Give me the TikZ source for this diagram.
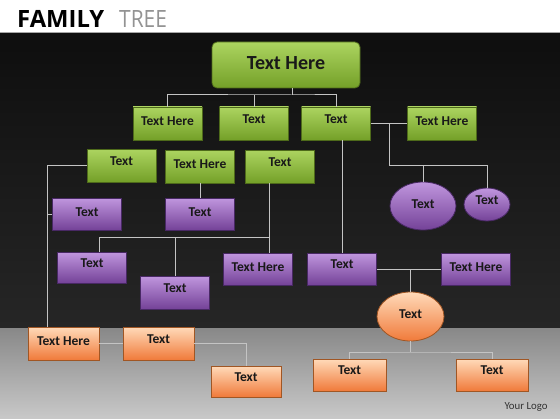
\documentclass[tikz,border=0pt]{standalone}
\usepackage{fontspec}
\setmainfont{Carlito}
\newfontfamily\titlefont{Open Sans}
\usetikzlibrary{shapes.geometric}
\definecolor{gtop}{RGB}{172,212,96}
\definecolor{gbot}{RGB}{116,160,40}
\definecolor{gline}{RGB}{78,106,26}
\definecolor{ptop}{RGB}{192,150,222}
\definecolor{pbot}{RGB}{116,66,152}
\definecolor{pline}{RGB}{72,40,100}
\definecolor{otop}{RGB}{255,218,185}
\definecolor{obot}{RGB}{240,122,58}
\definecolor{oline}{RGB}{160,86,36}
\definecolor{linkgray}{RGB}{196,196,196}
\definecolor{darktop}{RGB}{14,14,14}
\definecolor{darkbot}{RGB}{38,38,38}
\definecolor{floortop}{RGB}{136,136,136}
\definecolor{floorbot}{RGB}{200,200,200}
\begin{document}
\begin{tikzpicture}[x=1pt, y=-1pt,
	link/.style={draw=linkgray, line width=1pt},
	box/.style={draw, inner sep=0pt, minimum width=69pt, minimum height=32pt, line width=0.8pt, text depth=4pt, font=\bfseries\fontsize{13.5}{15}\selectfont, text=black!90},
	gbox/.style={box, draw=gline, top color=gtop, bottom color=gbot},
	pbox/.style={box, draw=pline, top color=ptop, bottom color=pbot},
	obox/.style={box, draw=oline, top color=otop, bottom color=obot},
	uptext/.style={text depth=9pt}]
	\useasboundingbox (0,0) rectangle (560,420);
	\fill[white] (0,0) rectangle (560,420);
	\shade[top color=darktop, bottom color=darkbot] (0,33) rectangle (560,328);
	\shade[top color=floortop, bottom color=floorbot] (0,328) rectangle (560,418);
	\draw[gray!70, line width=1pt] (0,32.5) -- (560,32.5);
	
	\node[anchor=base west, inner sep=0pt, font=\titlefont\bfseries\fontsize{23.8}{26}\selectfont] (title) at (17,28) {FAMILY};
	\node[anchor=base west, inner sep=0pt, font=\titlefont\fontsize{23.8}{26}\selectfont, text=gray!85] (title2) at (119,28) {\scalebox{0.88}[1]{TREE}};
	\node[font=\fontsize{10.8}{12}\selectfont, text=black!80] (logo) at (526,407) {Your Logo};
	
	\node[gbox, rounded corners=5pt, minimum width=148pt, minimum height=46pt, font=\bfseries\fontsize{20}{24}\selectfont] (0) at (286,65) {Text Here};
	
	\node[gbox, minimum height=33pt] (1) at (167.5,123.5) {Text Here};
	\node[gbox, uptext, minimum height=33pt] (2) at (254,123.5) {Text};
	\node[gbox, uptext, minimum height=33pt] (3) at (336,123.5) {Text};
	\node[gbox, minimum height=33pt] (4) at (442,123.5) {Text Here};
	
	\node[gbox, uptext, minimum height=33pt] (5) at (121.5,165.5) {Text};
	\node[gbox, minimum height=33pt] (6) at (200,166.5) {Text Here};
	\node[gbox, uptext, minimum height=33pt] (7) at (280,166.5) {Text};
	
	\node[pbox] (8) at (87,214) {Text};
	\node[pbox] (9) at (200,214) {Text};
	\node[pbox, ellipse, minimum width=66pt, minimum height=48pt] (10) at (423,206) {Text};
	\node[pbox, ellipse, uptext, minimum width=46pt, minimum height=33pt] (11) at (487,204.5) {Text};
	
	\node[pbox, uptext, minimum height=31pt] (12) at (92,267.5) {Text};
	\node[pbox, uptext, minimum height=33pt] (13) at (175,292.5) {Text};
	\node[pbox] (14) at (258,269) {Text Here};
	\node[pbox, uptext] (15) at (342,269) {Text};
	\node[pbox] (16) at (476,269) {Text Here};
	
	\node[obox, ellipse, minimum width=67pt, minimum height=49pt] (17) at (410.5,316.5) {Text};
	\node[obox, minimum width=71pt, minimum height=33pt] (18) at (63.5,343.5) {Text Here};
	\node[obox, uptext, minimum width=71pt, minimum height=33pt] (19) at (158.5,343.5) {Text};
	\node[obox, uptext, minimum width=70pt, minimum height=31pt] (20) at (246,381.5) {Text};
	\node[obox, uptext, minimum width=73pt] (21) at (349.5,375) {Text};
	\node[obox, uptext, minimum width=72pt] (22) at (492,375) {Text};
	
	\coordinate (r) at (292,95);
	\coordinate (c) at (389,165);
	\coordinate (t) at (47,165.5);
	\coordinate (g) at (269,237);
	\coordinate (o) at (410.5,352);
	
	\draw[link] ([xshift=6]0.south) -- (r);
	\draw[link] (1) |- (r) -| (3);
	\draw[link] (2) -- (2 |- r);
	\draw[link] (3) -- (4);
	\draw[link] (c |- 3) -- (c) -| (11);
	\draw[link] (10) -- (10 |- c);
	\draw[link] (15) -- (15 |- 3.south);
	\draw[link] (5) -- (t) -- (t |- 18.north);
	\draw[link] (8) -- (8 -| t);
	\draw[link] (6) -- (9);
	\draw[link] (g |- 7.south) -- (g |- 14.north);
	\draw[link] ([xshift=7]12.north) |- (g);
	\draw[link] (13) -- (13 |- g);
	\draw[link] (15) -- (16);
	\draw[link] (17) -- (17 |- 15);
	\draw[link] (17) -- (o);
	\draw[link] (21) |- (o) -| (22);
	\draw[link] (18) -- (19);
	\draw[link] (19) -| (20);
\end{tikzpicture}
\end{document}
